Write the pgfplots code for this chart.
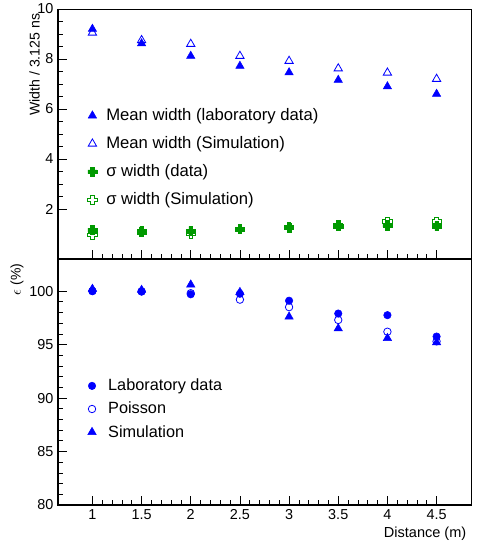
\documentclass[border=0pt]{standalone}
\usepackage{fontspec}
\setmainfont{Liberation Sans}
\usepackage{pgfplots}
\pgfplotsset{compat=1.18}
\definecolor{rblue}{RGB}{0,0,255}
\definecolor{rgreen}{RGB}{0,153,0}
\makeatletter
\pgfdeclareplotmark{fcross}{%
  \pgfpathmoveto{\pgfqpoint{-0.4\pgfplotmarksize}{\pgfplotmarksize}}%
  \pgfpathlineto{\pgfqpoint{0.4\pgfplotmarksize}{\pgfplotmarksize}}%
  \pgfpathlineto{\pgfqpoint{0.4\pgfplotmarksize}{0.4\pgfplotmarksize}}%
  \pgfpathlineto{\pgfqpoint{\pgfplotmarksize}{0.4\pgfplotmarksize}}%
  \pgfpathlineto{\pgfqpoint{\pgfplotmarksize}{-0.4\pgfplotmarksize}}%
  \pgfpathlineto{\pgfqpoint{0.4\pgfplotmarksize}{-0.4\pgfplotmarksize}}%
  \pgfpathlineto{\pgfqpoint{0.4\pgfplotmarksize}{-\pgfplotmarksize}}%
  \pgfpathlineto{\pgfqpoint{-0.4\pgfplotmarksize}{-\pgfplotmarksize}}%
  \pgfpathlineto{\pgfqpoint{-0.4\pgfplotmarksize}{-0.4\pgfplotmarksize}}%
  \pgfpathlineto{\pgfqpoint{-\pgfplotmarksize}{-0.4\pgfplotmarksize}}%
  \pgfpathlineto{\pgfqpoint{-\pgfplotmarksize}{0.4\pgfplotmarksize}}%
  \pgfpathlineto{\pgfqpoint{-0.4\pgfplotmarksize}{0.4\pgfplotmarksize}}%
  \pgfpathclose
  \pgfusepathqfillstroke}
\pgfdeclareplotmark{ocross}{%
  \pgfpathmoveto{\pgfqpoint{-0.4\pgfplotmarksize}{\pgfplotmarksize}}%
  \pgfpathlineto{\pgfqpoint{0.4\pgfplotmarksize}{\pgfplotmarksize}}%
  \pgfpathlineto{\pgfqpoint{0.4\pgfplotmarksize}{0.4\pgfplotmarksize}}%
  \pgfpathlineto{\pgfqpoint{\pgfplotmarksize}{0.4\pgfplotmarksize}}%
  \pgfpathlineto{\pgfqpoint{\pgfplotmarksize}{-0.4\pgfplotmarksize}}%
  \pgfpathlineto{\pgfqpoint{0.4\pgfplotmarksize}{-0.4\pgfplotmarksize}}%
  \pgfpathlineto{\pgfqpoint{0.4\pgfplotmarksize}{-\pgfplotmarksize}}%
  \pgfpathlineto{\pgfqpoint{-0.4\pgfplotmarksize}{-\pgfplotmarksize}}%
  \pgfpathlineto{\pgfqpoint{-0.4\pgfplotmarksize}{-0.4\pgfplotmarksize}}%
  \pgfpathlineto{\pgfqpoint{-\pgfplotmarksize}{-0.4\pgfplotmarksize}}%
  \pgfpathlineto{\pgfqpoint{-\pgfplotmarksize}{0.4\pgfplotmarksize}}%
  \pgfpathlineto{\pgfqpoint{-0.4\pgfplotmarksize}{0.4\pgfplotmarksize}}%
  \pgfpathclose
  \pgfusepathqstroke}
\makeatother
\begin{document}
\begin{tikzpicture}
\pgfplotsset{
  common/.style={
    scale only axis, width=309.75pt,
    xmin=0.65, xmax=4.85,
    xtick={1,1.5,2,2.5,3,3.5,4,4.5}, minor x tick num=4,
    tick align=inside, xtick pos=bottom, ytick pos=left,
    major tick length=6.5pt, minor tick length=3.5pt,
    tick style={black, line width=0.5pt},
    axis line style={line width=0.6pt},
    /pgf/number format/assume math mode=true,
    ticklabel style={font=\fontsize{10.8}{12}\selectfont},
    legend cell align=left,
    legend style={draw=none, fill=none, column sep=5pt},
    after end axis/.code={\draw[line width=1.5pt] (rel axis cs:0,1) -- (rel axis cs:0,0) -- (rel axis cs:1,0);},
  }
}
\begin{axis}[common,
  at={(0,184.5pt)}, anchor=south west, height=187.5pt,
  ymin=0, ymax=10, ytick={2,4,6,8,10}, minor y tick num=3,
  xticklabels={},
  ylabel={Width / 3.125 ns},
  ylabel style={at={(axis description cs:-0.033,1)}, anchor=south east, font=\fontsize{10.6}{12}\selectfont},
  legend style={at={(rel axis cs:0.062,0.624)}, anchor=north west, font=\fontsize{12.5}{15}\selectfont, row sep=6.5pt},
]
\addplot[only marks, mark=triangle*, mark size=3.6pt, color=rblue, mark options={fill=rblue}] coordinates {
(1,9.2) (1.5,8.62) (2,8.12) (2.5,7.72) (3,7.46) (3.5,7.16) (4,6.9) (4.5,6.6)};
\addlegendentry{Mean width (laboratory data)}
\addplot[only marks, mark=triangle, mark size=3.6pt, color=rblue, mark options={fill=none, line width=0.6pt}] coordinates {
(1,9.05) (1.5,8.75) (2,8.6) (2.5,8.12) (3,7.92) (3.5,7.62) (4,7.45) (4.5,7.2)};
\addlegendentry{Mean width (Simulation)}
\addplot[only marks, mark=fcross, mark size=3.4pt, color=rgreen, mark options={fill=rgreen}] coordinates {
(1,1.16) (1.5,1.12) (2,1.12) (2.5,1.2) (3,1.25) (3.5,1.32) (4,1.35) (4.5,1.32)};
\addlegendentry{σ width (data)}
\addplot[only marks, mark=ocross, mark size=3.4pt, color=rgreen, mark options={line width=0.6pt}] coordinates {
(1,0.96) (1.5,1.07) (2,1.02) (2.5,1.2) (3,1.27) (3.5,1.35) (4,1.5) (4.5,1.5)};
\addlegendentry{σ width (Simulation)}
\end{axis}
\begin{axis}[common,
  at={(0,0)}, anchor=south west, height=184.5pt,
  ymin=80, ymax=103, ytick={80,85,90,95,100}, minor y tick num=4,
  ylabel={$\epsilon$ (\%)},
  ylabel style={at={(axis description cs:-0.072,1)}, anchor=south east, font=\fontsize{10.5}{12}\selectfont},
  xlabel={Distance (m)},
  xlabel style={at={(axis description cs:1,0)}, anchor=north east, yshift=-13pt, font=\fontsize{10.9}{12}\selectfont},
  legend style={at={(rel axis cs:0.062,0.535)}, anchor=north west, font=\fontsize{12.2}{14}\selectfont, row sep=3pt, column sep=7pt},
]
\addplot[only marks, mark=*, mark size=2.8pt, color=rblue, mark options={fill=rblue}] coordinates {
(1,100.0) (1.5,99.95) (2,99.7) (2.5,99.75) (3,99.1) (3.5,97.9) (4,97.75) (4.5,95.75)};
\addlegendentry{Laboratory data}
\addplot[only marks, mark=o, mark size=2.8pt, color=rblue, mark options={fill=none, line width=0.6pt}] coordinates {
(1,100.0) (1.5,99.98) (2,99.8) (2.5,99.2) (3,98.5) (3.5,97.3) (4,96.2) (4.5,95.3)};
\addlegendentry{Poisson}
\addplot[only marks, mark=triangle*, mark size=3.6pt, color=rblue, mark options={fill=rblue}] coordinates {
(1,100.2) (1.5,100.1) (2,100.6) (2.5,99.9) (3,97.6) (3.5,96.5) (4,95.6) (4.5,95.2)};
\addlegendentry{Simulation}
\end{axis}
\pgfresetboundingbox
\path (-43.5pt,-27.75pt) rectangle (313.5pt,378.75pt);
\end{tikzpicture}
\end{document}
